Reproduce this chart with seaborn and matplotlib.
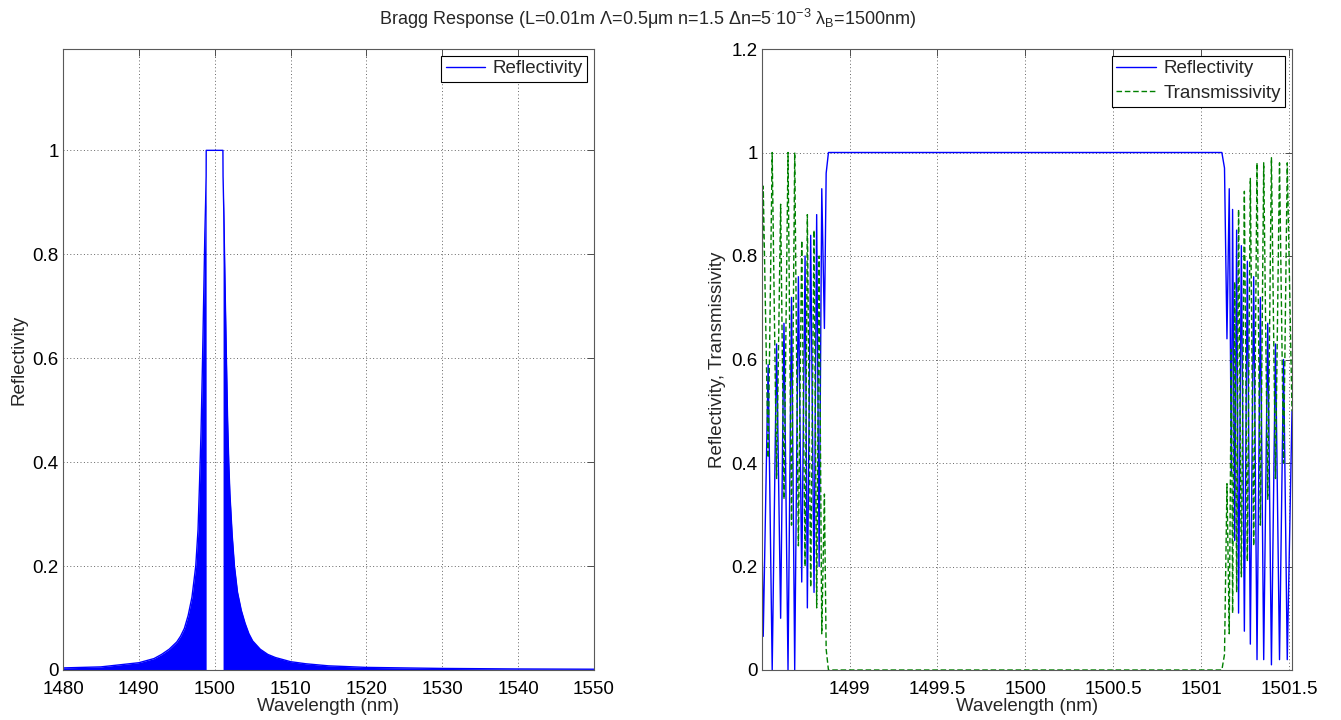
import matplotlib
matplotlib.use('Agg')
import matplotlib.pyplot as plt
import pandas as pd
import seaborn as sb

# ---- left panel: reflectivity envelope (nm, R) ----
wl_lo = [1480, 1485, 1490, 1492, 1493, 1494, 1495, 1495.5, 1496, 1496.5,
         1497, 1497.5, 1497.8, 1498, 1498.2, 1498.4, 1498.55, 1498.7,
         1498.8, 1498.87]
r_lo = [0.004, 0.006, 0.014, 0.022, 0.03, 0.04, 0.054, 0.065, 0.08, 0.105,
        0.14, 0.2, 0.27, 0.36, 0.46, 0.6, 0.72, 0.84, 0.9, 0.95]
wl_stop = [1498.88, 1501.08]
r_stop = [1.0, 1.0]
wl_hi = [1501.1, 1501.2, 1501.35, 1501.5, 1501.7, 1501.85, 1502.0, 1502.3,
         1502.6, 1503, 1503.5, 1504, 1504.5, 1505, 1506, 1507, 1508, 1510,
         1512, 1515, 1520, 1530, 1540, 1550]
r_hi = [0.95, 0.88, 0.75, 0.63, 0.48, 0.4, 0.34, 0.26, 0.2, 0.15, 0.115,
        0.09, 0.07, 0.056, 0.04, 0.03, 0.024, 0.016, 0.012, 0.008, 0.005,
        0.003, 0.002, 0.0015]

# ---- right panel: zoom around the stop band (nm, R, T) ----
wl_zoom = [1498.493, 1498.509, 1498.537, 1498.560, 1498.585, 1498.608, 1498.627,
           1498.650, 1498.670, 1498.688, 1498.709, 1498.728, 1498.747, 1498.760,
           1498.779, 1498.798, 1498.813, 1498.827, 1498.842, 1498.857, 1498.867,
           1498.880,
           1501.118, 1501.133, 1501.147, 1501.160, 1501.172, 1501.179, 1501.191,
           1501.202, 1501.213, 1501.229, 1501.246, 1501.263, 1501.280, 1501.299,
           1501.318, 1501.337, 1501.356, 1501.379, 1501.400, 1501.423, 1501.446,
           1501.469, 1501.490, 1501.517]
refl_zoom = [0.52, 0.065, 0.59, 0.0, 0.63, 0.10, 0.67, 0.0, 0.72, 0.0, 0.76,
             0.17, 0.80, 0.12, 0.84, 0.15, 0.88, 0.20, 0.93, 0.66, 0.96, 1.0,
             1.0, 0.97, 0.64, 0.93, 0.38, 0.89, 0.25, 0.85, 0.11, 0.82, 0.075,
             0.79, 0.05, 0.76, 0.02, 0.72, 0.02, 0.67, 0.01, 0.63, 0.02, 0.60,
             0.02, 0.50]
trans_zoom = [0.48, 0.935, 0.41, 1.0, 0.37, 0.90, 0.33, 1.0, 0.28, 1.0, 0.24,
              0.83, 0.20, 0.88, 0.16, 0.85, 0.12, 0.80, 0.07, 0.34, 0.04, 0.0,
              0.0, 0.03, 0.36, 0.07, 0.62, 0.11, 0.75, 0.15, 0.89, 0.18, 0.925,
              0.21, 0.95, 0.24, 0.98, 0.28, 0.98, 0.33, 0.99, 0.37, 0.98, 0.40,
              0.98, 0.50]

title = (u'Bragg Response (L=0.01m \u039b=0.5\u03bcm n=1.5 \u0394n=5$^{\u00b7}$10$^{-3}$ '
         u'\u03bb$_{\\mathrm{B}}$=1500nm)')

sb.set_style('white')
plt.rcParams['font.family'] = ['Liberation Sans', 'DejaVu Sans']
plt.rcParams['mathtext.fontset'] = 'custom'
plt.rcParams['mathtext.rm'] = 'Liberation Sans'
plt.rcParams['mathtext.it'] = 'Liberation Sans:italic'

FS = 13.5
W, H = 1341, 720
fig = plt.figure(figsize=(W / 100, H / 100), dpi=100)
ax1 = fig.add_axes([63 / W, 50 / H, 531 / W, 621 / H])
ax2 = fig.add_axes([762 / W, 50 / H, 530 / W, 621 / H])


def matlab_look(ax):
    ax.grid(True, linestyle=(0, (1, 2.5)), color='0.4', linewidth=0.7)
    ax.tick_params(direction='in', top=True, right=True, length=5, width=0.7,
                   color='0.3', labelsize=FS, labelcolor='black', pad=3)
    ax.tick_params(axis='x', pad=8)
    for s in ax.spines.values():
        s.set_color('0.35')
        s.set_linewidth(0.8)


# left: solid blue lobes plus the outline
left = pd.DataFrame({'wl': wl_lo + wl_stop + wl_hi, 'R': r_lo + r_stop + r_hi})
ax1.fill_between(wl_lo, 0, r_lo, color='blue', lw=0)
ax1.fill_between(wl_hi, 0, r_hi, color='blue', lw=0)
sb.lineplot(data=left, x='wl', y='R', ax=ax1, color='blue', lw=1.0,
            sort=False, estimator=None, label='Reflectivity')
ax1.set_xlim(1480, 1550)
ax1.set_ylim(0, 1.195)
ax1.set_xticks(range(1480, 1551, 10))
ax1.set_yticks([0, 0.2, 0.4, 0.6, 0.8, 1.0])
ax1.set_yticklabels(['0', '0.2', '0.4', '0.6', '0.8', '1'])
ax1.set_xlabel('Wavelength (nm)', fontsize=FS, labelpad=0)
ax1.set_ylabel('Reflectivity', fontsize=FS)
matlab_look(ax1)

# right: zoom with transmissivity
right = pd.DataFrame({'wl': wl_zoom, 'R': refl_zoom, 'T': trans_zoom})
sb.lineplot(data=right, x='wl', y='R', ax=ax2, color='blue', lw=1.0,
            sort=False, estimator=None, label='Reflectivity')
sb.lineplot(data=right, x='wl', y='T', ax=ax2, color=(0, 0.5, 0), lw=1.0,
            sort=False, estimator=None, label='Transmissivity',
            linestyle=(0, (4, 2)))
ax2.set_xlim(1498.502, 1501.517)
ax2.set_ylim(0, 1.2)
ax2.set_xticks([1499, 1499.5, 1500, 1500.5, 1501, 1501.5])
ax2.set_xticklabels(['1499', '1499.5', '1500', '1500.5', '1501', '1501.5'])
ax2.set_yticks([0, 0.2, 0.4, 0.6, 0.8, 1.0, 1.2])
ax2.set_yticklabels(['0', '0.2', '0.4', '0.6', '0.8', '1', '1.2'])
ax2.set_xlabel('Wavelength (nm)', fontsize=FS, labelpad=0)
ax2.set_ylabel('Reflectivity, Transmissivity', fontsize=FS)
matlab_look(ax2)

for ax in (ax1, ax2):
    leg = ax.legend(loc='upper right', frameon=True, fancybox=False,
                    edgecolor='black', framealpha=1, fontsize=FS,
                    handlelength=2.1, handletextpad=0.4, borderpad=0.25,
                    labelspacing=0.4, borderaxespad=0.35)
    leg.get_frame().set_linewidth(0.8)

fig.text(648 / W, 1 - 19 / H, title, ha='center', va='center', fontsize=13)

fig.savefig('out.png', dpi=100, facecolor='white')
